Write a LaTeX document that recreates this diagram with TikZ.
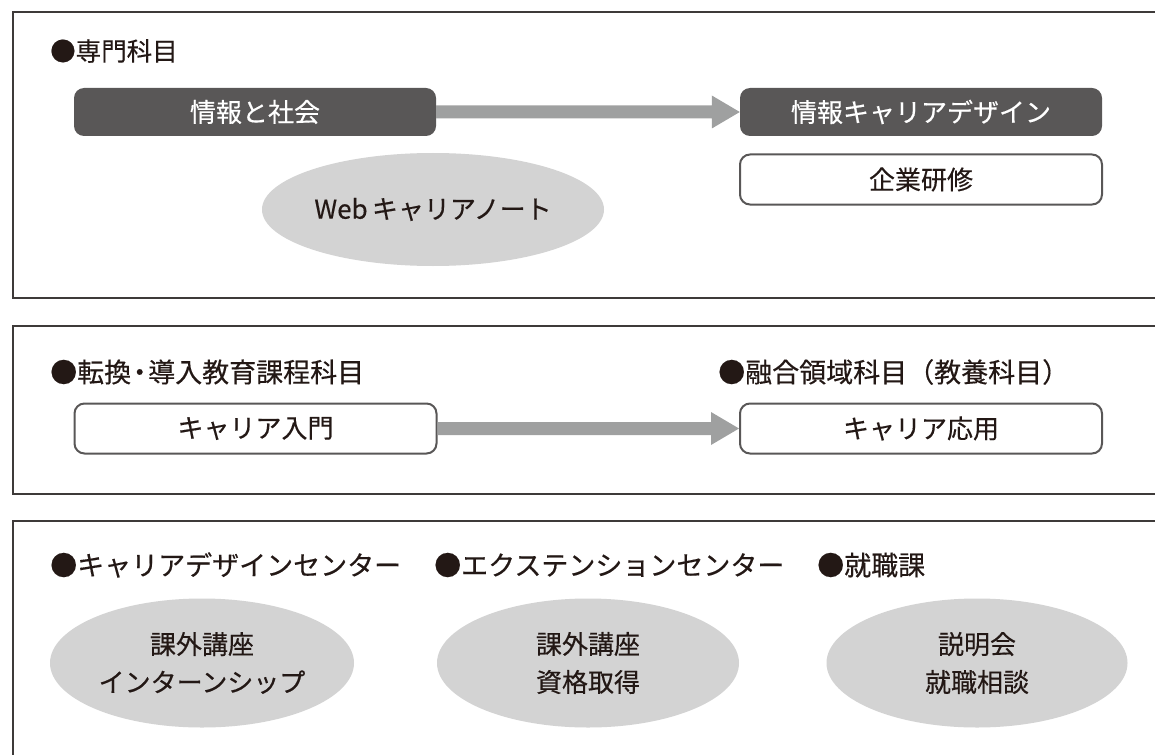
\documentclass[tikz,border=0pt]{standalone}
\usepackage{fontspec}
\setmainfont{Noto Sans CJK JP}[FakeBold=0.35]
\usetikzlibrary{calc,shapes.geometric}
\definecolor{panelline}{HTML}{3E3A39}
\definecolor{darkbox}{HTML}{595757}
\definecolor{arrowgray}{HTML}{9FA0A0}
\definecolor{ellgray}{HTML}{D3D3D3}
\definecolor{ink}{HTML}{231815}
\tikzset{
  panel/.style={draw=panelline, line width=1.6pt},
  heading/.style={anchor=west, inner sep=0pt, text=ink, font=\fontsize{27}{32}\selectfont},
  darkcourse/.style={rectangle, rounded corners=10pt, fill=darkbox, draw=none, text=white,
    minimum width=362pt, minimum height=48pt, inner sep=0pt, font=\fontsize{26}{30}\selectfont},
  whitecourse/.style={rectangle, rounded corners=10pt, fill=white, draw=darkbox, line width=2pt, text=ink,
    minimum width=362pt, minimum height=50pt, inner sep=0pt, font=\fontsize{26}{30}\selectfont},
  oval/.style={ellipse, fill=ellgray, draw=none, text=ink, inner sep=0pt, align=center,
    font=\fontsize{26}{38}\selectfont},
  flowarrow/.style={fill=arrowgray, draw=none}
}
\newcommand{\flowarrow}[2]{%
  \path (#1.east) coordinate (s) (#2.west) coordinate (t);
  \fill[flowarrow] ($(s)+(0,-6.5)$) -- ($(t)+(-28,-6.5)$) -- ($(t)+(-28,-16.5)$) -- (t)
    -- ($(t)+(-28,16.5)$) -- ($(t)+(-28,6.5)$) -- ($(s)+(0,6.5)$) -- cycle;
}
\begin{document}
\begin{tikzpicture}[x=1pt,y=-1pt]
\useasboundingbox (0,0) rectangle (1155,754);
\begin{scope}
\clip (0,0) rectangle (1155,754);
% panels
\draw[panel] (13,12) rectangle (1175,298);
\draw[panel] (13,326) rectangle (1175,494);
\draw[panel] (13,521) rectangle (1175,780);
\end{scope}

% panel 1
\node[heading, font=\fontsize{25.5}{30}\selectfont] (h1) at (50,51) {●専門科目};
\node[darkcourse] (jyoho) at (255,112) {情報と社会};
\node[darkcourse] (jcd) at (921,112) {情報キャリアデザイン};
\node[whitecourse] (kigyo) at (921,179.5) {企業研修};
\node[oval, minimum width=342pt, minimum height=113pt] (web) at (433,209.5) {Web\,キャリアノート};
\flowarrow{jyoho}{jcd}

% panel 2
\node[heading] (h2) at (50,372) {●転換\kern-5pt・\kern-5pt導入教育課程科目};
\node[heading] (h3) at (718,372) {●融合領域科目（教養科目）};
\node[whitecourse] (nyumon) at (255.5,428.5) {キャリア入門};
\node[whitecourse] (oyo) at (921,428.5) {キャリア応用};
\flowarrow{nyumon}{oyo}

% panel 3
\node[heading] (h4) at (50,565) {●キャリアデザインセンター};
\node[heading] (h5) at (434,565) {●エクステンションセンター};
\node[heading] (h6) at (817,565) {●就職課};
\node[oval, minimum width=304pt, minimum height=129pt] (c1) at (202,663) {課外講座\\インターンシップ};
\node[oval, minimum width=302pt, minimum height=129pt] (c2) at (588,663) {課外講座\\資格取得};
\node[oval, minimum width=301pt, minimum height=129pt] (c3) at (977,663) {説明会\\就職相談};
\end{tikzpicture}
\end{document}
